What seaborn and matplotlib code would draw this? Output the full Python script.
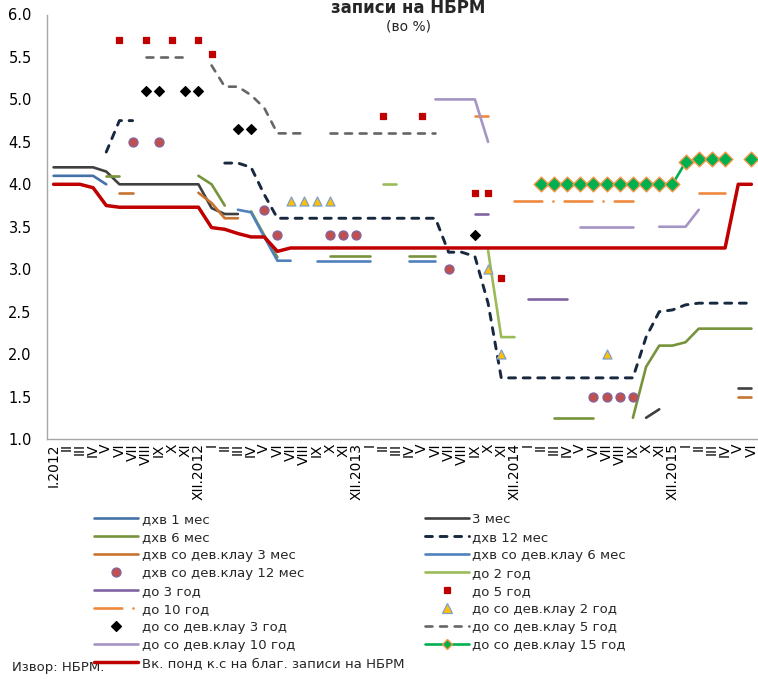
import numpy as np
import matplotlib
matplotlib.use("Agg")
import matplotlib.pyplot as plt
from matplotlib.lines import Line2D
import seaborn as sns

nan = np.nan

# ---- month axis: I.2012 ... VI.2016 ----
ROMAN = ["I", "II", "III", "IV", "V", "VI", "VII", "VIII", "IX", "X", "XI", "XII"]
FULL_YEARS = [2012, 2013, 2014, 2015]
MONTHS_2016 = ["I", "II", "III", "IV", "V", "VI"]

month_labels = []
for yr in FULL_YEARS:
    for m in ROMAN:
        if m == "XII" or (yr == 2012 and m == "I"):
            month_labels.append(f"{m}.{yr}")
        else:
            month_labels.append(m)
month_labels += MONTHS_2016

# ---- interest rates, % (one value per month, nan = no auction) ----
#              I    II   III  IV   V    VI   VII  VIII IX   X    XI   XII
bill_1m = [
    4.10, 4.10, 4.10, 4.10, 4.00, nan, nan, nan, nan, nan, nan, nan,
    nan, nan, nan, nan, nan, nan, nan, nan, nan, nan, nan, nan,
    nan, nan, nan, nan, nan, nan, nan, nan, nan, nan, nan, nan,
    nan, nan, nan, nan, nan, nan, nan, nan, nan, nan, nan, nan,
    nan, nan, nan, nan, nan, nan]
bill_3m = [
    4.20, 4.20, 4.20, 4.20, 4.15, 4.00, 4.00, 4.00, 4.00, 4.00, 4.00, 4.00,
    3.72, 3.65, 3.65, nan, nan, nan, nan, nan, nan, nan, nan, nan,
    nan, nan, nan, nan, nan, nan, nan, nan, nan, nan, nan, nan,
    nan, nan, nan, nan, nan, nan, nan, nan, nan, 1.25, 1.35, nan,
    nan, nan, nan, nan, 1.60, 1.60]
bill_6m = [
    nan, nan, nan, nan, 4.10, 4.10, nan, nan, nan, nan, nan, 4.10,
    4.00, 3.75, nan, 3.68, 3.40, 3.14, nan, nan, nan, 3.15, 3.15, 3.15,
    3.15, nan, nan, 3.15, 3.15, 3.15, nan, nan, nan, nan, nan, nan,
    nan, nan, 1.25, 1.25, 1.25, 1.25, nan, nan, 1.25, 1.85, 2.10, 2.10,
    2.14, 2.30, 2.30, 2.30, 2.30, 2.30]
bill_12m = [
    nan, nan, nan, nan, 4.38, 4.75, 4.75, nan, nan, nan, nan, nan,
    nan, 4.25, 4.25, 4.20, 3.88, 3.60, 3.60, 3.60, 3.60, 3.60, 3.60, 3.60,
    3.60, 3.60, 3.60, 3.60, 3.60, 3.60, 3.20, 3.20, 3.15, 2.60, 1.72, 1.72,
    1.72, 1.72, 1.72, 1.72, 1.72, 1.72, 1.72, 1.72, 1.72, 2.20, 2.50, 2.52,
    2.58, 2.60, 2.60, 2.60, 2.60, 2.60]
fx_bill_3m = [
    nan, nan, nan, nan, nan, 3.90, 3.90, nan, nan, nan, nan, 3.90,
    3.78, 3.60, 3.60, nan, nan, nan, nan, nan, nan, nan, nan, nan,
    nan, nan, nan, nan, nan, nan, nan, nan, nan, nan, nan, nan,
    nan, nan, nan, nan, nan, nan, nan, nan, nan, nan, nan, nan,
    nan, nan, nan, nan, 1.50, 1.50]
fx_bill_6m = [
    nan, nan, nan, nan, nan, nan, nan, nan, nan, nan, nan, nan,
    nan, nan, 3.70, 3.67, 3.38, 3.10, 3.10, nan, 3.10, 3.10, 3.10, 3.10,
    3.10, nan, nan, 3.10, 3.10, 3.10, nan, nan, nan, nan, nan, nan,
    nan, nan, nan, nan, nan, nan, nan, nan, nan, nan, nan, nan,
    nan, nan, nan, nan, nan, nan]
fx_bill_12m = [
    nan, nan, nan, nan, nan, nan, 4.50, nan, 4.50, nan, nan, nan,
    nan, nan, nan, nan, 3.70, 3.40, nan, nan, nan, 3.40, 3.40, 3.40,
    nan, nan, nan, nan, nan, nan, 3.00, nan, nan, nan, nan, nan,
    nan, nan, nan, nan, nan, 1.50, 1.50, 1.50, 1.50, nan, nan, nan,
    nan, nan, nan, nan, nan, nan]
bond_2y = [
    nan, nan, nan, nan, nan, nan, nan, nan, nan, nan, nan, nan,
    nan, nan, nan, nan, nan, nan, nan, nan, nan, nan, nan, nan,
    nan, 4.00, 4.00, nan, nan, nan, nan, nan, nan, 3.22, 2.20, 2.20,
    nan, nan, nan, nan, nan, nan, nan, nan, nan, nan, nan, nan,
    nan, nan, nan, nan, nan, nan]
bond_3y = [
    nan, nan, nan, nan, nan, nan, nan, nan, nan, nan, nan, nan,
    nan, nan, nan, nan, nan, nan, nan, nan, nan, nan, nan, nan,
    nan, nan, nan, nan, nan, nan, nan, nan, 3.65, 3.65, nan, nan,
    2.65, 2.65, 2.65, 2.65, nan, nan, nan, nan, nan, nan, nan, nan,
    nan, nan, nan, nan, nan, nan]
bond_5y = [
    nan, nan, nan, nan, nan, 5.70, nan, 5.70, nan, 5.70, nan, 5.70,
    5.53, nan, nan, nan, nan, nan, nan, nan, nan, nan, nan, nan,
    nan, 4.80, nan, nan, 4.80, nan, nan, nan, 3.90, 3.90, 2.90, nan,
    nan, nan, nan, nan, nan, nan, nan, nan, nan, nan, nan, nan,
    nan, nan, nan, nan, nan, nan]
bond_10y = [
    nan, nan, nan, nan, nan, nan, nan, nan, nan, nan, nan, nan,
    nan, nan, nan, nan, nan, nan, nan, nan, nan, nan, nan, nan,
    nan, nan, nan, nan, nan, nan, nan, nan, 4.80, 4.80, nan, 3.80,
    3.80, 3.80, 3.80, 3.80, 3.80, 3.80, 3.80, 3.80, 3.80, nan, nan, nan,
    nan, 3.90, 3.90, 3.90, nan, nan]
fx_bond_2y = [
    nan, nan, nan, nan, nan, nan, nan, nan, nan, nan, nan, nan,
    nan, nan, nan, nan, nan, nan, 3.80, 3.80, 3.80, 3.80, nan, nan,
    nan, nan, nan, nan, nan, nan, nan, nan, nan, 3.00, 2.00, nan,
    nan, nan, nan, nan, nan, nan, 2.00, nan, nan, nan, nan, nan,
    nan, nan, nan, nan, nan, nan]
fx_bond_3y = [
    nan, nan, nan, nan, nan, nan, nan, 5.10, 5.10, nan, 5.10, 5.10,
    nan, nan, 4.65, 4.65, nan, nan, nan, nan, nan, nan, nan, nan,
    nan, nan, nan, nan, nan, nan, nan, nan, 3.40, nan, nan, nan,
    nan, nan, nan, nan, nan, nan, nan, nan, nan, nan, nan, nan,
    nan, nan, nan, nan, nan, nan]
fx_bond_5y = [
    nan, nan, nan, nan, nan, nan, nan, 5.50, 5.50, 5.50, 5.50, nan,
    5.40, 5.15, 5.15, 5.05, 4.90, 4.60, 4.60, 4.60, nan, 4.60, 4.60, 4.60,
    4.60, 4.60, 4.60, 4.60, 4.60, 4.60, nan, nan, nan, nan, nan, nan,
    nan, nan, nan, nan, nan, nan, nan, nan, nan, nan, nan, nan,
    nan, nan, nan, nan, nan, nan]
fx_bond_10y = [
    nan, nan, nan, nan, nan, nan, nan, nan, nan, nan, nan, nan,
    nan, nan, nan, nan, nan, nan, nan, nan, nan, nan, nan, nan,
    nan, nan, nan, nan, nan, 5.00, 5.00, 5.00, 5.00, 4.50, nan, nan,
    nan, nan, nan, nan, 3.50, 3.50, 3.50, 3.50, 3.50, nan, 3.50, 3.50,
    3.50, 3.70, nan, nan, nan, nan]
fx_bond_15y = [
    nan, nan, nan, nan, nan, nan, nan, nan, nan, nan, nan, nan,
    nan, nan, nan, nan, nan, nan, nan, nan, nan, nan, nan, nan,
    nan, nan, nan, nan, nan, nan, nan, nan, nan, nan, nan, nan,
    nan, 4.00, 4.00, 4.00, 4.00, 4.00, 4.00, 4.00, 4.00, 4.00, 4.00, 4.00,
    4.26, 4.30, 4.30, 4.30, nan, 4.30]
nbrm_bills = [
    4.00, 4.00, 4.00, 3.96, 3.75, 3.73, 3.73, 3.73, 3.73, 3.73, 3.73, 3.73,
    3.49, 3.47, 3.42, 3.38, 3.38, 3.21, 3.25, 3.25, 3.25, 3.25, 3.25, 3.25,
    3.25, 3.25, 3.25, 3.25, 3.25, 3.25, 3.25, 3.25, 3.25, 3.25, 3.25, 3.25,
    3.25, 3.25, 3.25, 3.25, 3.25, 3.25, 3.25, 3.25, 3.25, 3.25, 3.25, 3.25,
    3.25, 3.25, 3.25, 3.25, 4.00, 4.00]

# ---- drawing styles ----
LW = 1.9
DASH = (5.0, 5.5)
LONG_DASH_DOT = (20.0, 8.0, 0.1, 8.0)

series = [
    ("дхв 1 мес", bill_1m, dict(kind="line", color="#4472A8", lw=LW)),
    ("3 мес", bill_3m, dict(kind="line", color="#404040", lw=LW)),
    ("дхв 6 мес", bill_6m, dict(kind="line", color="#77933C", lw=LW)),
    ("дхв 12 мес", bill_12m, dict(kind="line", color="#17283F", lw=2.1, dashes=DASH)),
    ("дхв со дев.клау 3 мес", fx_bill_3m, dict(kind="line", color="#C8732F", lw=LW)),
    ("дхв со дев.клау 6 мес", fx_bill_6m, dict(kind="line", color="#4F81BD", lw=LW)),
    ("дхв со дев.клау 12 мес", fx_bill_12m, dict(kind="marker", marker="o", color="#C0504D",
                                               edge="#8064A2", ms=6.5)),
    ("до 2 год", bond_2y, dict(kind="line", color="#9BBB59", lw=LW)),
    ("до 3 год", bond_3y, dict(kind="line", color="#8064A2", lw=LW)),
    ("до 5 год", bond_5y, dict(kind="marker", marker="s", color="#C00000",
                                edge="#C00000", ms=5.0)),
    ("до 10 год", bond_10y, dict(kind="line", color="#EE8A3E", lw=LW, dashes=LONG_DASH_DOT)),
    ("до со дев.клау 2 год", fx_bond_2y, dict(kind="marker", marker="^", color="#FFC000",
                                             edge="#7F9FCF", ms=6.5)),
    ("до со дев.клау 3 год", fx_bond_3y, dict(kind="marker", marker="D", color="#000000",
                                             edge="#000000", ms=5.0)),
    ("до со дев.клау 5 год", fx_bond_5y, dict(kind="line", color="#666666", lw=LW, dashes=DASH)),
    ("до со дев.клау 10 год", fx_bond_10y, dict(kind="line", color="#A595C5", lw=LW)),
    ("до со дев.клау 15 год", fx_bond_15y, dict(kind="line+marker", color="#00B050", lw=LW,
                                               marker="D", mfc="#00B050", edge="#F79646", ms=7.5)),
    ("Вк. понд к.с на благ. записи на НБРМ", nbrm_bills, dict(kind="line", color="#C00000", lw=2.5)),
]

sns.set_theme(style="white")
plt.rcParams["font.family"] = ["DejaVu Sans"]
plt.rcParams["lines.scale_dashes"] = False

W, H = 758, 679
fig = plt.figure(figsize=(W / 100, H / 100), dpi=100)
ax = fig.add_axes([47 / W, 1 - 439 / H, (W - 47) / W, (439 - 14.5) / H])

x_idx = np.arange(len(month_labels))


def runs(values):
    """Contiguous stretches of available values, as index arrays."""
    ok = ~np.isnan(values)
    out, cur = [], []
    for i, flag in enumerate(ok):
        if flag:
            cur.append(i)
        elif cur:
            out.append(np.array(cur))
            cur = []
    if cur:
        out.append(np.array(cur))
    return out


handles = []
for name, vals, st in series:
    vals = np.asarray(vals, dtype=float)
    kind = st["kind"]
    if kind in ("line", "line+marker"):
        for r in runs(vals):
            line_kws = dict(color=st["color"], linewidth=st["lw"],
                            solid_capstyle="round", dash_capstyle="round",
                            solid_joinstyle="round", dash_joinstyle="round")
            if "dashes" in st:
                line_kws["linestyle"] = (0, st["dashes"])
            if len(r) == 1:
                sns.scatterplot(x=x_idx[r], y=vals[r], ax=ax, color=st["color"],
                                s=st["lw"] ** 2 * 2, edgecolor="none", legend=False, zorder=3)
            else:
                sns.lineplot(x=x_idx[r], y=vals[r], ax=ax, estimator=None, sort=False,
                             legend=False, zorder=2, **line_kws)
        if kind == "line+marker":
            ok = ~np.isnan(vals)
            sns.scatterplot(x=x_idx[ok], y=vals[ok], ax=ax, marker=st["marker"],
                            color=st["mfc"], edgecolor=st["edge"], linewidth=1.0,
                            s=st["ms"] ** 2, legend=False, zorder=4)
            h = Line2D([], [], color=st["color"], lw=st["lw"], marker=st["marker"],
                       markerfacecolor=st["mfc"], markeredgecolor=st["edge"], markersize=5)
        else:
            h = Line2D([], [], color=st["color"], lw=st["lw"], solid_capstyle="round",
                       dash_capstyle="round")
            if "dashes" in st:
                h.set_linestyle((0, st["dashes"]))
    else:
        ok = ~np.isnan(vals)
        sns.scatterplot(x=x_idx[ok], y=vals[ok], ax=ax, marker=st["marker"],
                        color=st["color"], edgecolor=st["edge"], linewidth=0.9,
                        s=st["ms"] ** 2, legend=False, zorder=4)
        h = Line2D([], [], linestyle="none", marker=st["marker"], markersize=st["ms"],
                   markerfacecolor=st["color"], markeredgecolor=st["edge"], markeredgewidth=0.9)
    handles.append((h, name))

# ---- axes ----
ax.set_xlim(-0.5, len(month_labels) - 0.5)
ax.set_ylim(1.0, 6.0)
ax.set_yticks(np.arange(1.0, 6.01, 0.5))
ax.set_yticklabels([f"{v:.1f}" for v in np.arange(1.0, 6.01, 0.5)], fontsize=10.5, color="#000000")
ax.set_xticks(x_idx)
ax.set_xticklabels(month_labels, rotation=90, fontsize=10, color="#000000",
                   ha="center", va="top")
ax.tick_params(axis="both", length=0)
ax.tick_params(axis="y", pad=11)
ax.tick_params(axis="x", pad=3)
ax.set_xlabel("")
ax.set_ylabel("")
for side in ("top", "right"):
    ax.spines[side].set_visible(False)
for side in ("left", "bottom"):
    ax.spines[side].set_color("#A6A6A6")
    ax.spines[side].set_linewidth(1.0)
ax.grid(False)

# ---- titles ----
fig.text(408 / W, 1 - 13 / H, "записи на НБРМ", fontsize=12, fontweight="bold",
         ha="center", va="baseline")
fig.text(408 / W, 1 - 26 / H, "(во %)", fontsize=10, ha="center", va="center")

# ---- legend: two columns, filled row by row ----
left_col = handles[0::2]
right_col = handles[1::2]
leg_kws = dict(loc="upper left", frameon=False, fontsize=9.5, borderpad=0.0,
               borderaxespad=0.0, handlelength=3.3, handletextpad=0.3,
               labelspacing=0.38)
leg1 = fig.legend([h for h, _ in left_col], [n for _, n in left_col],
                  bbox_to_anchor=(94 / W, 1 - 513 / H), **leg_kws)
leg2 = fig.legend([h for h, _ in right_col], [n for _, n in right_col],
                  bbox_to_anchor=(425 / W, 1 - 513 / H), **leg_kws)

fig.text(12 / W, 1 - 668 / H, "Извор: НБРМ.", fontsize=9.5, ha="left", va="center")

fig.savefig("out.png", dpi=100)
